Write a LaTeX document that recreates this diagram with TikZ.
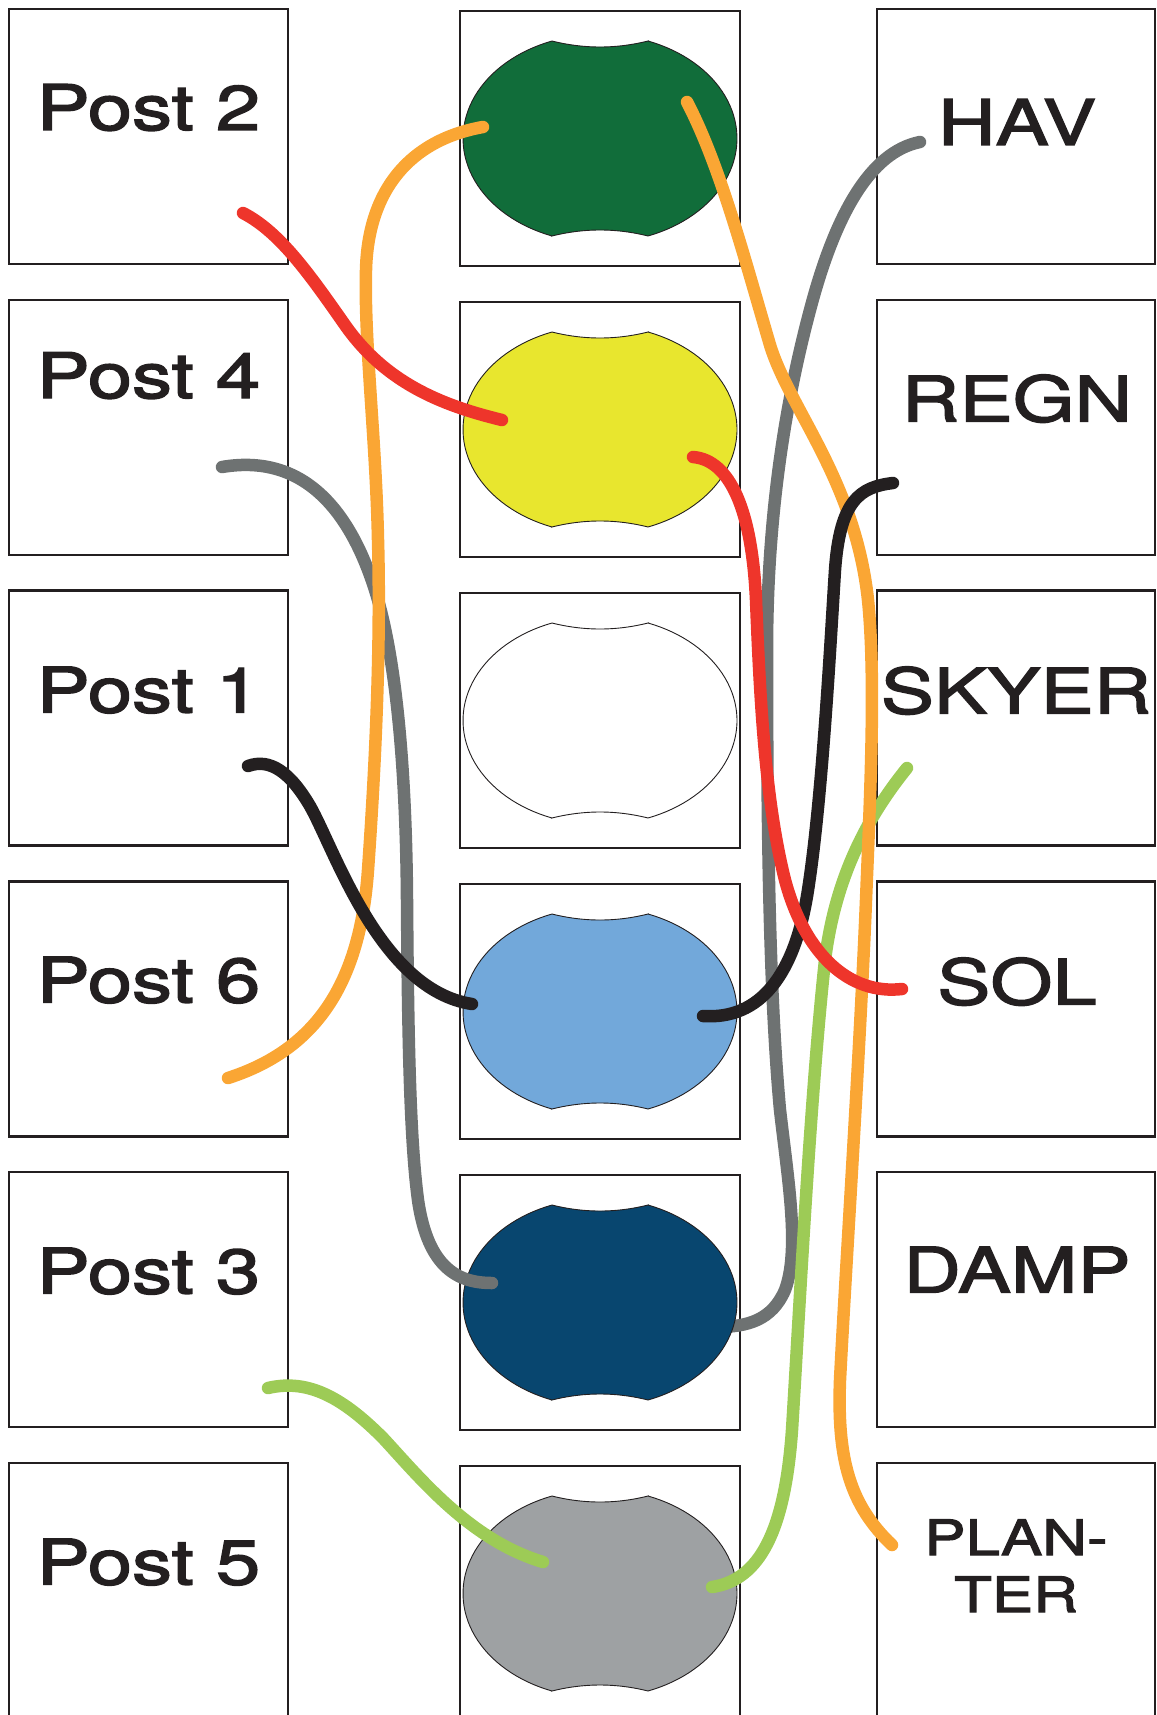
\documentclass[tikz,border=0pt]{standalone}
\usepackage{fontspec}
\newfontfamily\lblfont{TeX Gyre Heros}[FakeStretch=1.27,FakeBold=2.3]
\definecolor{ink}{RGB}{35,31,32}
\definecolor{wred}{RGB}{238,53,43}
\definecolor{worange}{RGB}{250,166,52}
\definecolor{wgray}{RGB}{110,114,114}
\definecolor{wgreen}{RGB}{157,203,86}
\definecolor{bgreen}{RGB}{17,109,58}
\definecolor{byellow}{RGB}{232,230,46}
\definecolor{bblue}{RGB}{114,168,218}
\definecolor{bnavy}{RGB}{8,70,111}
\definecolor{bgray}{RGB}{158,161,163}
\newcommand\blobshape[2]{%
  \filldraw[fill=#2,draw=ink,line width=0.9pt,shift={(#1)}]
    plot[domain=-69.49:69.49,samples=50] ({137*cos(\x)},{104.1*sin(\x)})
    .. controls (16,89.5) and (-16,89.5) .. (-48,97.5)
    -- plot[domain=110.51:249.49,samples=50] ({137*cos(\x)},{104.1*sin(\x)})
    .. controls (-16,-89.5) and (16,-89.5) .. (48,-97.5) -- cycle;}
\begin{document}
\begin{tikzpicture}[x=1pt,y=-1pt,
  box/.style={draw=ink,line width=2.5pt,minimum width=279pt,minimum height=255pt,inner sep=0pt},
  lbl/.style={anchor=base,inner sep=0pt,text=ink,font=\lblfont\fontsize{62.8}{62.8}\selectfont},
  smalllbl/.style={anchor=base,inner sep=0pt,text=ink,font=\lblfont\fontsize{48.8}{48.8}\selectfont},
  wire/.style={line width=12.5pt,line cap=round,line join=round}]
\useasboundingbox (0,0) rectangle (1156,1715);
% left boxes
\node[box] (L2) at (148.5,136.5) {};
\node[box] (L4) at (148.5,427.3) {};
\node[box] (L1) at (148.5,718.1) {};
\node[box] (L6) at (148.5,1008.9) {};
\node[box] (L3) at (148.5,1299.7) {};
\node[box] (L5) at (148.5,1590.5) {};
% middle boxes
\node[box,minimum width=280pt] (M1) at (600,138.5) {};
\node[box,minimum width=280pt] (M2) at (600,429.5) {};
\node[box,minimum width=280pt] (M3) at (600,720.5) {};
\node[box,minimum width=280pt] (M4) at (600,1011.5) {};
\node[box,minimum width=280pt] (M5) at (600,1302.5) {};
\node[box,minimum width=280pt] (M6) at (600,1593.5) {};
% right boxes
\node[box,minimum width=278pt] (R1) at (1016,136.5) {};
\node[box,minimum width=278pt] (R2) at (1016,427.3) {};
\node[box,minimum width=278pt] (R3) at (1016,718.1) {};
\node[box,minimum width=278pt] (R4) at (1016,1008.9) {};
\node[box,minimum width=278pt] (R5) at (1016,1299.7) {};
\node[box,minimum width=278pt] (R6) at (1016,1590.5) {};
% labels
\node[lbl] (tL2) at (148.5,130) {Post 2};
\node[lbl] (tL4) at (148.5,398) {Post 4};
\node[lbl] (tL1) at (148.5,712.5) {Post 1};
\node[lbl] (tL6) at (148.5,1002.5) {Post 6};
\node[lbl] (tL3) at (148.5,1293.5) {Post 3};
\node[lbl] (tL5) at (148.5,1584.5) {Post 5};
\node[lbl] (tR1) at (1017,145) {HAV};
\node[lbl] (tR2) at (1017,421.5) {REGN};
\node[lbl] (tR3) at (1016,713.5) {SKYER};
\node[lbl] (tR4) at (1017,1004.5) {SOL};
\node[lbl] (tR5) at (1017,1292.5) {DAMP};
\node[smalllbl] (tR6a) at (1016,1555) {PLAN-};
\node[smalllbl] (tR6b) at (1016,1612) {TER};
% connector end points
\coordinate (c1s) at (243,213);   \coordinate (c1e) at (502,420);
\coordinate (c2s) at (228,1078);  \coordinate (c2e) at (483,127);
\coordinate (c3s) at (222,467);   \coordinate (c3e) at (492,1283);
\coordinate (c4s) at (248,766);   \coordinate (c4e) at (472,1004);
\coordinate (c5s) at (268,1388);  \coordinate (c5e) at (543,1562);
\coordinate (c6s) at (687,102);   \coordinate (c6e) at (892,1545);
\coordinate (c7s) at (693,457);   \coordinate (c7e) at (902,989);
\coordinate (c8s) at (716,1327);  \coordinate (c8e) at (920,142);
\coordinate (c9s) at (703,1016);  \coordinate (c9e) at (893,483);
\coordinate (c10s) at (712,1587); \coordinate (c10e) at (907,768);
% gray wire HAV -> navy shape, running under the shape
\draw[wire,wgray] (c8e) .. controls (870,152) and (835,215) .. (810,310)
  .. controls (790,385) and (767,500) .. (767,650)
  .. controls (767,850) and (770,1000) .. (780,1110)
  .. controls (788,1180) and (800,1250) .. (785,1290)
  .. controls (772,1320) and (748,1327) .. (c8s);
% shapes
\blobshape{M1.center}{bgreen}
\blobshape{M2.center}{byellow}
\blobshape{M3.center}{white}
\blobshape{M4.center}{bblue}
\blobshape{M5.center}{bnavy}
\blobshape{M6.center}{bgray}
% wires
\draw[wire,wgray] (c3s) .. controls (310,452) and (355,520) .. (378,600)
  .. controls (395,660) and (406,760) .. (407,900)
  .. controls (408,1040) and (410,1140) .. (418,1200)
  .. controls (428,1270) and (460,1283) .. (c3e);
\draw[wire,wgreen] (c10s) .. controls (760,1580) and (785,1530) .. (792,1430)
  .. controls (800,1300) and (810,1100) .. (825,960)
  .. controls (835,880) and (865,820) .. (c10e);
\draw[wire,wgreen] (c5s) .. controls (310,1378) and (345,1400) .. (383,1438)
  .. controls (420,1478) and (470,1540) .. (c5e);
\draw[wire,worange] (c2s) .. controls (315,1050) and (360,985) .. (368,870)
  .. controls (375,770) and (381,650) .. (378,540)
  .. controls (376,440) and (364,340) .. (366,270)
  .. controls (368,190) and (410,140) .. (c2e);
\draw[wire,worange] (c6s) .. controls (720,165) and (745,260) .. (770,345)
  .. controls (790,410) and (855,480) .. (868,600)
  .. controls (876,680) and (870,800) .. (866,900)
  .. controls (860,1050) and (845,1280) .. (840,1380)
  .. controls (837,1460) and (850,1505) .. (c6e);
\draw[wire,ink] (c4s) .. controls (270,758) and (290,772) .. (310,806)
  .. controls (335,850) and (380,990) .. (c4e);
\draw[wire,ink] (c9s) .. controls (760,1020) and (795,975) .. (808,890)
  .. controls (822,800) and (830,650) .. (835,570)
  .. controls (840,500) and (860,487) .. (c9e);
\draw[wire,wred] (c1s) .. controls (280,232) and (310,275) .. (345,325)
  .. controls (385,382) and (440,405) .. (c1e);
\draw[wire,wred] (c7s) .. controls (730,460) and (752,510) .. (756,600)
  .. controls (760,700) and (765,800) .. (785,880)
  .. controls (805,955) and (850,995) .. (c7e);
\end{tikzpicture}
\end{document}
